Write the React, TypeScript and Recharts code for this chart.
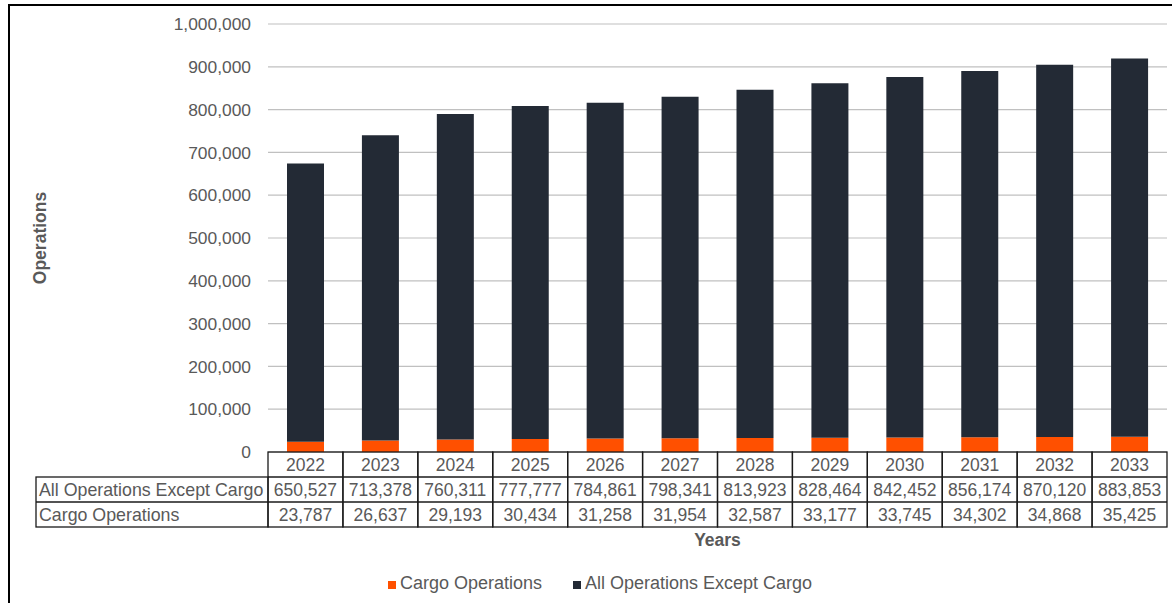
import React from 'react';
import { BarChart, Bar, XAxis, YAxis, CartesianGrid, Legend } from 'recharts';

const years = ['2022', '2023', '2024', '2025', '2026', '2027', '2028', '2029', '2030', '2031', '2032', '2033'];
const allExceptCargo = [650527, 713378, 760311, 777777, 784861, 798341, 813923, 828464, 842452, 856174, 870120, 883853];
const cargo = [23787, 26637, 29193, 30434, 31258, 31954, 32587, 33177, 33745, 34302, 34868, 35425];
const yTicks = [0, 100000, 200000, 300000, 400000, 500000, 600000, 700000, 800000, 900000, 1000000];
const rowLabels = ['All Operations Except Cargo', 'Cargo Operations'];
const seriesNames = ['Cargo Operations', 'All Operations Except Cargo'];

const data = years.map((y, i) => ({ year: y, cargo: cargo[i], other: allExceptCargo[i] }));

const W = 1172;
const H = 603;
const LEFT = 268;
const RIGHT = 5;
const TOP = 24;
const ROW_H = 25;
const TABLE_LEFT = 36;
const FONT = '"Liberation Sans", Arial, sans-serif';
const TEXT = '#595959';
const BORDER = '#1a1a1a';
const ORANGE = '#ff5000';
const DARK = '#232a35';
const band = (W - LEFT - RIGHT) / years.length;
const fmt = (v: number) => v.toLocaleString('en-US');

const TableTick = (props: any) => {
  const { x, y, payload, index } = props;
  const i = typeof payload?.index === 'number' ? payload.index : index;
  const x0 = x - band / 2;
  const cells = [payload.value, fmt(allExceptCargo[i]), fmt(cargo[i])];
  return (
    <g>
      {i === 0 && (
        <g>
          <rect x={TABLE_LEFT} y={y + ROW_H} width={x0 - TABLE_LEFT} height={ROW_H * 2} fill="none" stroke={BORDER} strokeWidth={1.3} />
          <line x1={TABLE_LEFT} x2={x0} y1={y + ROW_H * 2} y2={y + ROW_H * 2} stroke={BORDER} strokeWidth={1.3} />
          {rowLabels.map((l, k) => (
            <text key={l} x={TABLE_LEFT + 3} y={y + ROW_H * (k + 1) + ROW_H / 2} dominantBaseline="central" fill={TEXT} fontSize={17.8} fontFamily={FONT}>
              {l}
            </text>
          ))}
        </g>
      )}
      <rect x={x0} y={y} width={band} height={ROW_H * 3} fill="none" stroke={BORDER} strokeWidth={1.3} />
      <line x1={x0} x2={x0 + band} y1={y + ROW_H} y2={y + ROW_H} stroke={BORDER} strokeWidth={1.3} />
      <line x1={x0} x2={x0 + band} y1={y + ROW_H * 2} y2={y + ROW_H * 2} stroke={BORDER} strokeWidth={1.3} />
      {cells.map((c, k) => (
        <text key={k} x={x} y={y + ROW_H * k + ROW_H / 2} textAnchor="middle" dominantBaseline="central" fill={TEXT} fontSize={17.5} fontFamily={FONT}>
          {c}
        </text>
      ))}
    </g>
  );
};

const LegendContent = () => (
  <div style={{ position: 'relative', height: 41, fontFamily: FONT, fontSize: 18, color: TEXT }}>
    <div style={{ position: 'absolute', left: 388, top: 11, display: 'flex', alignItems: 'center', whiteSpace: 'nowrap' }}>
      <span style={{ display: 'inline-block', width: 8, height: 8, background: ORANGE, marginRight: 4, marginTop: 2 }} />
      <span>{seriesNames[0]}</span>
    </div>
    <div style={{ position: 'absolute', left: 573, top: 11, display: 'flex', alignItems: 'center', whiteSpace: 'nowrap' }}>
      <span style={{ display: 'inline-block', width: 8, height: 8, background: DARK, marginRight: 4, marginTop: 2 }} />
      <span>{seriesNames[1]}</span>
    </div>
  </div>
);

export default function App() {
  return (
    <div style={{ position: 'absolute', left: 0, top: 0, width: W, height: H, background: '#fff', overflow: 'hidden' }}>
      <div style={{ position: 'absolute', left: 8, top: 4, width: W - 8, height: H - 4, borderTop: '2px solid #000', borderLeft: '2px solid #000', boxSizing: 'border-box' }} />
      <div style={{ position: 'absolute', left: 0, top: 0 }}>
        <BarChart width={W} height={H} data={data} margin={{ top: TOP, right: RIGHT, left: 0, bottom: 0 }}>
          <CartesianGrid vertical={false} stroke="#c0c0c0" strokeWidth={1.2} />
          <XAxis
            dataKey="year"
            height={110}
            interval={0}
            axisLine={false}
            tickLine={false}
            tickSize={0}
            tickMargin={0}
            tick={<TableTick />}
            label={{
              content: (p: any) => {
                const vb = p.viewBox || { x: LEFT, y: 452, width: W - LEFT - RIGHT };
                return (
                  <text x={vb.x + vb.width / 2} y={vb.y + 88} textAnchor="middle" dominantBaseline="central" fill={TEXT} fontSize={17.5} fontWeight="bold" fontFamily={FONT}>
                    Years
                  </text>
                );
              },
            }}
          />
          <YAxis
            width={LEFT}
            domain={[0, 1000000]}
            ticks={yTicks}
            interval={0}
            axisLine={false}
            tickLine={false}
            tickSize={6}
            tickMargin={11}
            tickFormatter={fmt}
            tick={{ fill: TEXT, fontSize: 17.4, fontFamily: FONT }}
            label={{
              content: (p: any) => {
                const vb = p.viewBox || { x: 0, y: TOP, height: 428 };
                const cy = vb.y + vb.height / 2;
                return (
                  <text x={40} y={cy} transform={`rotate(-90 40 ${cy})`} textAnchor="middle" dominantBaseline="central" fill={TEXT} fontSize={17.5} fontWeight="bold" fontFamily={FONT}>
                    Operations
                  </text>
                );
              },
            }}
          />
          <Legend verticalAlign="bottom" height={41} content={<LegendContent />} />
          <Bar dataKey="cargo" name={seriesNames[0]} stackId="a" fill={ORANGE} barSize={37} isAnimationActive={false} />
          <Bar dataKey="other" name={seriesNames[1]} stackId="a" fill={DARK} barSize={37} isAnimationActive={false} />
        </BarChart>
      </div>
    </div>
  );
}
